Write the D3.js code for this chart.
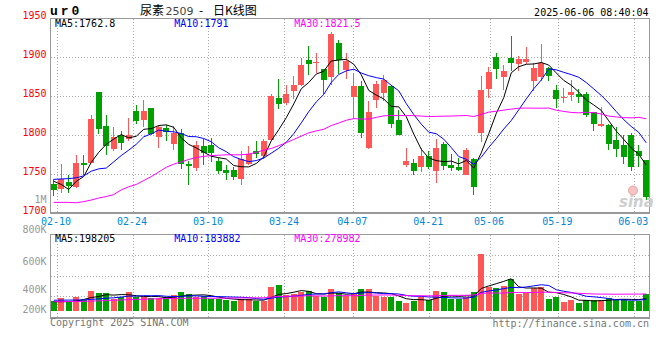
<!DOCTYPE html>
<html><head><meta charset="utf-8">
<script src="https://cdn.jsdelivr.net/npm/d3@7"></script>
<style>body{margin:0;background:#fff}svg{display:block}</style>
</head><body>
<svg id="c" width="660" height="360"></svg>
<script>
// ---------------- data ----------------
const dates = ["02-07","02-10","02-11","02-12","02-13","02-14","02-17","02-18","02-19","02-20","02-21",
"02-24","02-25","02-26","02-27","02-28","03-03","03-04","03-05","03-06","03-07",
"03-10","03-11","03-12","03-13","03-14","03-17","03-18","03-19","03-20","03-21",
"03-24","03-25","03-26","03-27","03-28","03-31","04-01","04-02","04-03",
"04-07","04-08","04-09","04-10","04-11","04-14","04-15","04-16","04-17","04-18",
"04-21","04-22","04-23","04-24","04-25","04-28","04-29","04-30",
"05-06","05-07","05-08","05-09","05-12","05-13","05-14","05-15","05-16",
"05-19","05-20","05-21","05-22","05-23","05-26","05-27","05-28","05-29","05-30",
"06-03","06-04","06-05"];
const open = [1738,1731.6,1740.6,1733.7,1764.5,1764.5,1855.5,1812,1783,1800,
1794.8,1831.2,1820.1,1835,1797.4,1809.4,1789.3,1803,1763.6,1758,
1786,1787,1767,1755.5,1755.5,1743.6,1763.2,1780,1774,1794.6,
1847.8,1841,1857.2,1864.5,1896.5,1892.5,1885,1875.3,1918.7,1884,
1848.5,1863,1784,1845,1854.5,1863,1819.6,1762,1764.3,1759.4,
1773.5,1754.7,1788.9,1762,1759.6,1749.3,1769.4,1803.3,1860,1900.6,
1875,1899.3,1891.7,1894.4,1869.9,1875,1886,1858.1,1848,1852,
1853,1853,1830.1,1811.7,1813.4,1794.2,1787.8,1800.6,1780.1,1768.5];
const close = [1730.3,1743.6,1735.4,1764.5,1762,1820.9,1808.5,1786.7,1797.8,1790.6,
1800,1818.8,1831.2,1802.1,1810.7,1804.2,1803,1763.6,1760.2,1788,
1777,1777,1754,1752.1,1746.1,1769.2,1776,1776,1793.1,1850.4,
1840.3,1853,1864.5,1890.1,1890.8,1894.2,1871.1,1930.1,1895.9,1895.7,
1863,1803,1830,1866,1871,1815,1800.5,1766.8,1754.7,1773.1,
1759.5,1783.7,1760.2,1758,1755.7,1781.1,1734.3,1858.3,1881.4,1884.8,
1882.9,1893,1897.4,1897.4,1886.5,1892.5,1876.6,1846.8,1849.3,1855.7,
1848.5,1826.3,1814.7,1814.5,1789,1782.6,1772.8,1759.6,1774.1,1720.5];
const high = [1744,1763.6,1749,1775.2,1775.2,1826,1855.5,1826.5,1810.7,1806,
1822.2,1838.4,1845.7,1835,1812.8,1812.8,1811.5,1808.5,1767.5,1793,
1795,1797,1771,1762.4,1760,1780.3,1785.9,1793,1794.8,1853,
1872.2,1865,1876,1899,1914.5,1905,1885.5,1932.6,1922.2,1905.3,
1879.5,1869,1844,1869,1877,1865,1832.5,1784,1770,1784,
1779.3,1795.5,1792,1776,1770.7,1784,1771,1876,1888,1905,
1890.3,1927.3,1901.5,1913.2,1892.5,1917,1887,1864.7,1860.5,1871.5,
1858.8,1855,1830.2,1835.9,1815,1810.2,1800.6,1802.8,1787.8,1768.7];
const low = [1722,1726,1726.5,1733,1749.5,1764,1801.7,1774.3,1779.5,1781.6,
1793.1,1814.5,1810.7,1800.8,1783.7,1792.3,1781.6,1757.2,1736.7,1753.8,
1762,1766,1750,1743,1743,1736.3,1762,1770.5,1769.2,1794,
1833.1,1838.6,1846,1863,1877.5,1880,1852.5,1865,1878,1872,
1821,1796,1783,1835,1844,1810,1800,1760,1749,1753.2,
1756.5,1738.6,1755.8,1754.6,1754,1749,1723.6,1791.6,1847.6,1872,
1858.3,1881.8,1882.9,1891.4,1856.5,1870,1869.8,1834.4,1841.6,1844.4,
1841.6,1824,1805.5,1810.6,1781.6,1772.8,1763.4,1754.6,1759.6,1716.6];
const volume = [167000,217000,150000,222000,178000,333000,300000,300000,189000,222000,
317000,222000,222000,206000,206000,222000,261000,317000,278000,222000,
244000,194000,189000,178000,167000,189000,189000,167000,167000,400000,
433000,261000,278000,306000,333000,244000,222000,361000,300000,244000,
289000,361000,361000,244000,222000,233000,167000,133000,167000,222000,
178000,328000,311000,189000,189000,222000,311000,944000,400000,372000,
417000,528000,272000,300000,378000,400000,194000,233000,144000,178000,
128000,178000,178000,178000,206000,194000,194000,167000,167000,278000];

// moving-average values before a full window exists
const ma5Head  = [1741,1737,1730.5,1741];
const ma10Head = [1743.5,1744,1744.5,1745.5,1748,1754,1757,1758,1766];
const ma30Head = [1714,1714,1714,1713.5,1715,1717,1719.6,1721.5,1724,1730,1734,1737,1742,1747,1753,
                  1759,1763,1766,1769,1771.5,1773,1774,1774.5,1775,1775,1775,1776,1778,1781];
const volMa5Head  = [150000,150000,152000,160000];
const volMa10Head = [175000,176000,177000,178000,180000,188000,198000,208000,215000];
const volMa30Head = [150000,150000,152000,153000,155000,160000,165000,170000,175000,178000,
                     185000,188000,190000,195000,200000,202000,205000,206000,207000,208000,
                     208000,208000,209000,210000,211000,212000,213000,214000,215000];

const priceTicks = [1950,1900,1850,1800,1750,1700];
const dateTicks = ["02-10","02-24","03-10","03-24","04-07","04-21","05-06","05-19","06-03"];
const volTickLabels = ["1M","800K","600K","400K","200K"];
const maLabels = ["MA5:1762.8","MA10:1791","MA30:1821.5"];
const volMaLabels = ["MA5:198205","MA10:183882","MA30:278982"];
const maColors = ["#000000","#0000FF","#FF00FF"];

// ---------------- drawing ----------------
const svg = d3.select("#c");
const MONO = "'DejaVu Sans Mono', monospace";
const UP = "#FF5656", DOWN = "#00A000", GRID = "#aaaaaa", FRAME = "#999999";
svg.append("rect").attr("width",660).attr("height",360).attr("fill","#fff");

const n = dates.length;
const x = d3.scaleBand().domain(d3.range(n)).range([50,650]).paddingInner(0.2).paddingOuter(0.1);
const xc = i => x(i) + x.bandwidth()/2;
const xGrid = d3.scaleLinear().domain([0,n-1]).range([49.5,649.5]);
const yP = d3.scaleLinear().domain([1700,1950]).range([213.3,18.3]);
const yV = d3.scaleLinear().domain([0,1000000]).range([310.7,250.7]);

function movingAvg(arr, w, head){
  return arr.map((v,i)=> i < w-1 ? head[i] : d3.mean(arr.slice(i-w+1,i+1)));
}

// header
svg.append("text").attr("x",50).attr("y",15).attr("font-family","'Liberation Mono', monospace")
  .attr("font-weight","bold").attr("font-size",13).attr("letter-spacing",3).attr("fill","#000").text("ur0");
const t = svg.append("text").attr("y",14.5).attr("font-size",12).attr("fill","#000")
  .attr("font-family","'Noto Sans CJK SC', sans-serif");
t.append("tspan").attr("x",140).text("尿素");
t.append("tspan").attr("x",165.5).attr("font-family","'DejaVu Sans', sans-serif").attr("font-size",11).attr("fill","#444").text("2509");
t.append("tspan").attr("x",199).text("-");
t.append("tspan").attr("x",213).text("日K线图");
svg.append("text").attr("x",648.5).attr("y",15.5).attr("text-anchor","end").attr("font-family",MONO)
  .attr("font-size",10).attr("fill","#000").text("2025-06-06 08:40:04");

// grid lines (main)
const gridG = svg.append("g").attr("stroke",GRID).attr("stroke-dasharray","1,2").attr("shape-rendering","crispEdges");
priceTicks.filter(v=>v<1950 && v>1700).forEach(v=>{
  const yy = Math.round(yP(v))+0.5;
  gridG.append("line").attr("x1",51).attr("x2",649).attr("y1",yy).attr("y2",yy);
});
// volume panel horizontal divisions
[255.5,276,296.5].forEach(yy=>gridG.append("line").attr("x1",51).attr("x2",649).attr("y1",yy).attr("y2",yy));
// vertical date grid lines
dateTicks.forEach(d=>{
  const i = dates.indexOf(d);
  const xx = Math.round(xGrid(i)-0.5)+0.5;
  if (xx < 648) {
    gridG.append("line").attr("x1",xx).attr("x2",xx).attr("y1",19).attr("y2",212);
    gridG.append("line").attr("x1",xx).attr("x2",xx).attr("y1",235).attr("y2",317);
  }
});

// frames
const fr = svg.append("g").attr("stroke",FRAME).attr("fill","none").attr("shape-rendering","crispEdges");
fr.append("rect").attr("x",50.5).attr("y",18.5).attr("width",599).attr("height",194);
fr.append("line").attr("x1",50).attr("x2",650).attr("y1",213.5).attr("y2",213.5);
fr.append("rect").attr("x",50.5).attr("y",234.5).attr("width",599).attr("height",83);
fr.append("line").attr("x1",50).attr("x2",650).attr("y1",318.5).attr("y2",318.5);

// watermark
const wm = svg.append("g");
wm.append("circle").attr("cx",633).attr("cy",190.5).attr("r",4.5).attr("fill","#f5c4c4").attr("stroke","#eaa0a0");
wm.append("text").attr("x",619).attr("y",207).attr("font-family","'DejaVu Sans', sans-serif").attr("font-style","italic")
  .attr("font-weight","bold").attr("font-size",15).attr("fill","#cfcfcf").text("sina");

// price axis labels
svg.append("g").selectAll("text").data(priceTicks).join("text")
  .attr("x",46.5).attr("y",d=>yP(d)+1).attr("text-anchor","end").attr("font-family",MONO)
  .attr("font-size",10).attr("fill","#FF0000").text(d=>d);
// volume axis labels (positions as in the original image)
const volLabelY = [203.3,233.3,265,293.3,313.3];
svg.append("g").selectAll("text").data(volTickLabels).join("text")
  .attr("x",46.5).attr("y",(d,i)=>volLabelY[i]).attr("text-anchor","end").attr("font-family",MONO)
  .attr("font-size",10).attr("fill","#999").text(d=>d);
// date labels
svg.append("g").selectAll("text").data(dateTicks).join("text")
  .attr("x",d=>xGrid(dates.indexOf(d))-1).attr("y",225).attr("text-anchor","middle")
  .attr("font-family",MONO).attr("font-size",10).attr("fill","#0088DD").text(d=>d);

// candles
const cg = svg.append("g").attr("shape-rendering","crispEdges");
d3.range(n).forEach(i=>{
  const up = close[i] >= open[i];
  const col = up ? UP : DOWN;
  const cx = Math.floor(xc(i))+0.5;
  cg.append("line").attr("x1",cx).attr("x2",cx).attr("y1",yP(high[i])).attr("y2",yP(low[i])).attr("stroke",col);
  const y0 = yP(Math.max(open[i],close[i])), y1 = yP(Math.min(open[i],close[i]));
  cg.append("rect").attr("x",x(i)).attr("width",x.bandwidth()).attr("y",y0)
    .attr("height",Math.max(1,y1-y0)).attr("fill",col);
});

// price MA lines
const pMAs = [movingAvg(close,5,ma5Head), movingAvg(close,10,ma10Head), movingAvg(close,30,ma30Head)];
const lineP = d3.line().x((d,i)=>xc(i)).y(d=>yP(d));
pMAs.forEach((m,j)=>svg.append("path").attr("d",lineP(m)).attr("fill","none").attr("stroke",maColors[j]).attr("stroke-width",1));

// MA labels
const maX = [55,174.3,294.3];
maLabels.forEach((s,j)=>svg.append("text").attr("x",maX[j]).attr("y",27.3).attr("font-family",MONO)
  .attr("font-size",10).attr("fill",maColors[j]).text(s));

// volume bars
const vg = svg.append("g").attr("shape-rendering","crispEdges");
d3.range(n).forEach(i=>{
  const col = close[i] >= open[i] ? UP : DOWN;
  vg.append("rect").attr("x",x(i)).attr("width",x.bandwidth()).attr("y",yV(volume[i]))
    .attr("height",yV(0)-yV(volume[i])).attr("fill",col);
});
const vMAs = [movingAvg(volume,5,volMa5Head), movingAvg(volume,10,volMa10Head), movingAvg(volume,30,volMa30Head)];
const lineV = d3.line().x((d,i)=>xc(i)).y(d=>yV(d));
vMAs.forEach((m,j)=>svg.append("path").attr("d",lineV(m)).attr("fill","none").attr("stroke",maColors[j]).attr("stroke-width",1));
volMaLabels.forEach((s,j)=>svg.append("text").attr("x",maX[j]).attr("y",241.7).attr("font-family",MONO)
  .attr("font-size",10).attr("fill",maColors[j]).text(s));

// footer
svg.append("text").attr("x",50).attr("y",326).attr("font-family",MONO).attr("font-size",10).attr("fill","#777")
  .text("Copyright 2025 SINA.COM");
svg.append("text").attr("x",649).attr("y",326.5).attr("text-anchor","end").attr("font-family",MONO)
  .attr("font-size",10).attr("fill","#777").text("http://finance.sina.com.cn");
</script>
</body></html>
